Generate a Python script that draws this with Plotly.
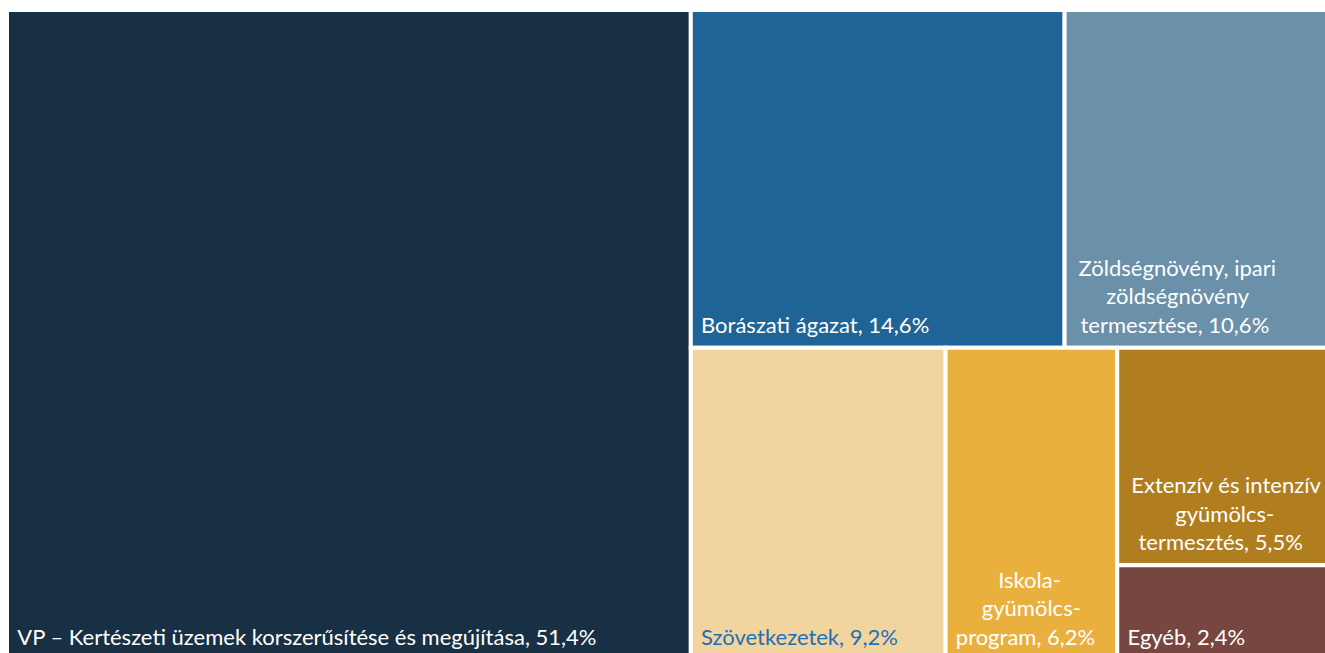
import plotly.graph_objects as go

root = "Összesen"
labels = [
    "VP – Kertészeti üzemek korszerűsítése és megújítása",
    "Borászati ágazat",
    "Zöldségnövény, ipari zöldségnövény termesztése",
    "Szövetkezetek",
    "Iskolagyümölcs-program",
    "Extenzív és intenzív gyümölcstermesztés",
    "Egyéb",
]
values = [51.4, 14.6, 10.6, 9.2, 6.2, 5.5, 2.4]
label_lines = [
    ["VP – Kertészeti üzemek korszerűsítése és megújítása, 51,4%"],
    ["Borászati ágazat, 14,6%"],
    ["Zöldségnövény, ipari", "zöldségnövény", "termesztése, 10,6%"],
    ["Szövetkezetek, 9,2%"],
    ["Iskola-", "gyümölcs-", "program, 6,2%"],
    ["Extenzív és intenzív", "gyümölcs-", "termesztés, 5,5%"],
    ["Egyéb, 2,4%"],
]
# style: per-line indentation (px) used to centre wrapped lines
line_indents = [[0], [0], [0, 25, 5], [0], [39, 18, 0], [0, 45, 12], [0]]
colors = ["#183044", "#1F6496", "#6A90AA", "#F2D49E", "#EAB03E", "#B07E1E", "#774640"]
text_colors = ["white", "white", "white", "#1F6FB5", "white", "white", "white"]

FONT = 22
EN = "\u2002"        # en space = 0.5 em
SP_W = 0.193 * FONT  # approx width of a normal space in Lato
PAD_SPAN = '<span style="font-size:58px">\u2009</span>'  # adds left and bottom padding


def indent(px):
    n_en = int(px // (FONT / 2))
    rest = px - n_en * FONT / 2
    return EN * n_en + " " * int(round(rest / SP_W))


def build(lines, indents):
    out = []
    for i, (ln, ind) in enumerate(zip(lines, indents)):
        if i == len(lines) - 1:
            out.append(PAD_SPAN + indent(ind) + ln)
        else:
            out.append(EN + indent(ind) + ln)
    return "<br>".join(out)


display_text = [build(l, i) for l, i in zip(label_lines, line_indents)]

fig = go.Figure(go.Treemap(
    labels=[root] + labels,
    parents=[""] + [root] * len(labels),
    values=[0] + values,
    branchvalues="remainder",
    text=[""] + display_text,
    textinfo="text",
    textposition="bottom left",
    textfont=dict(family="Lato", size=FONT, color=["white"] + text_colors),
    marker=dict(colors=["white"] + colors, line=dict(color="white", width=4),
                pad=dict(t=0, l=0, r=0, b=0)),
    tiling=dict(pad=0),
    sort=True,
    pathbar=dict(visible=False),
    hoverinfo="label+value",
))

fig.update_layout(
    width=1336,
    height=660,
    margin=dict(l=7, r=0, t=10, b=0),
    paper_bgcolor="white",
    uniformtext=dict(minsize=10),
)

post = (
    "document.documentElement.style.overflow='hidden';"
    "document.body.style.margin='0';"
    "document.body.style.overflow='hidden';"
    "document.body.style.width='1325px';"
    "document.body.style.height='653px';"
)
fig.write_html("out.html", post_script=post, config={"displayModeBar": False})
